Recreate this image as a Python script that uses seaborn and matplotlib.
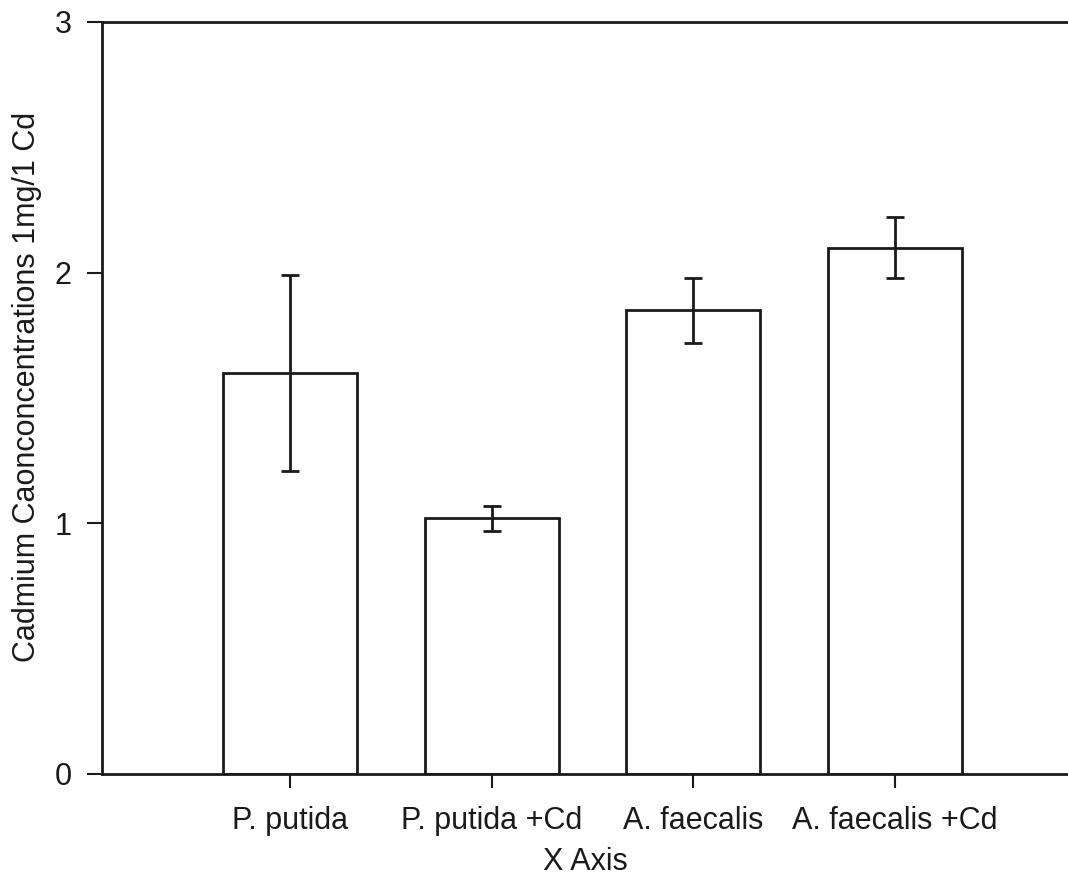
import matplotlib
matplotlib.use("Agg")
import matplotlib.pyplot as plt
import seaborn as sns
import pandas as pd

strains = ["P. putida", "P. putida +Cd", "A. faecalis", "A. faecalis +Cd"]
cadmium = [1.60, 1.02, 1.85, 2.10]
err_low = [0.39, 0.05, 0.13, 0.12]
err_high = [0.39, 0.05, 0.13, 0.12]
yticks = [0, 1, 2, 3]

df = pd.DataFrame({"strain": strains, "cd": cadmium})

sns.set_style("white")
plt.rcParams["font.family"] = ["Liberation Sans", "DejaVu Sans"]

fig = plt.figure(figsize=(10.68, 8.77), dpi=100)
ax = fig.add_axes([0.0955, 0.1175, 0.9045, 0.8575])

sns.barplot(data=df, x="strain", y="cd", ax=ax, errorbar=None,
            color="white", edgecolor="#1a1a1a", linewidth=2, width=0.664)
ax.errorbar(range(len(strains)), cadmium, yerr=[err_low, err_high], fmt="none",
            ecolor="#1a1a1a", elinewidth=2, capsize=6.2, capthick=2)

ax.set_xlim(-0.932, 3.857)
ax.set_ylim(0, 3)
ax.set_yticks(yticks)
ax.set_yticklabels([str(v) for v in yticks])

for side in ["left", "bottom", "top"]:
    ax.spines[side].set_visible(True)
    ax.spines[side].set_color("#1a1a1a")
    ax.spines[side].set_linewidth(2)
ax.spines["right"].set_visible(False)

ax.tick_params(axis="y", direction="out", length=11, width=1.5, labelsize=22,
               pad=11, left=True, colors="#1a1a1a")
ax.tick_params(axis="x", direction="out", length=10, width=1.5, labelsize=22,
               pad=13, bottom=True, colors="#1a1a1a")

ax.set_xlabel("X Axis", fontsize=22, color="#1a1a1a", va="center")
ax.set_ylabel("Cadmium Caonconcentrations 1mg/1 Cd", fontsize=22,
              color="#1a1a1a", va="center")
ax.xaxis.set_label_coords(0.5, -0.117)
ax.yaxis.set_label_coords(-0.0776, 0.515)

fig.savefig("out.png", dpi=100)
